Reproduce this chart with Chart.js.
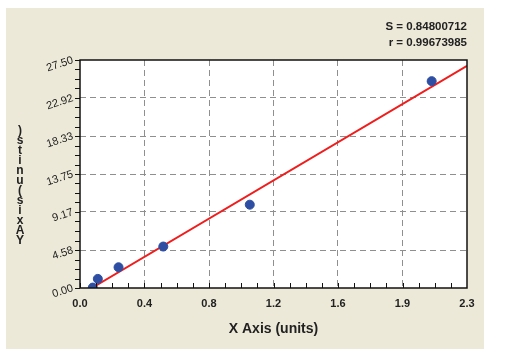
<!DOCTYPE html>
<html lang="en">
<head>
    <meta charset="UTF-8">
    <title>Standard Curve</title>
    <script src="https://cdn.jsdelivr.net/npm/chart.js"></script>
    <style>
        body { margin: 0; background: #fff; }
        #wrap { width: 505px; height: 349px; position: relative; }
    </style>
</head>
<body>
    <div id="wrap"><canvas id="curveChart"></canvas></div>

    <script>
        // values
        var xTickVals = [0, 0.3833, 0.7667, 1.15, 1.5333, 1.9167, 2.3];
        var xTickLabels = ["0.0", "0.4", "0.8", "1.2", "1.6", "1.9", "2.3"];
        var yTickVals = [0, 4.5833, 9.1667, 13.75, 18.3333, 22.9167, 27.5];
        var yTickLabels = ["0.00", "4.58", "9.17", "13.75", "18.33", "22.92", "27.50"];
        var pointX = [0.076, 0.106, 0.229, 0.495, 1.009, 2.09];
        var pointY = [0.05, 1.1, 2.5, 5.0, 10.05, 24.95];
        var fitX = [0.07, 2.3];
        var fitY = [0.0, 26.8];
        var statLines = ["S = 0.84800712", "r = 0.99673985"];
        var yTitle = "Y Axis (units)";

        var FONT = "'Liberation Sans', Arial, sans-serif";

        var decorPlugin = {
            id: "decor",
            beforeDraw: function(chart) {
                var ctx = chart.ctx, a = chart.chartArea;
                ctx.save();
                ctx.fillStyle = "#ece9d8";
                ctx.fillRect(6, 8, 478, 341);
                ctx.fillStyle = "#ffffff";
                ctx.fillRect(a.left, a.top, a.right - a.left, a.bottom - a.top);
                ctx.restore();
            },
            afterDraw: function(chart) {
                var ctx = chart.ctx, a = chart.chartArea;
                var xs = chart.scales.x, ys = chart.scales.y;
                ctx.save();
                ctx.strokeStyle = "#111";
                ctx.lineWidth = 1;
                // minor + major ticks, x inward, y outward
                ctx.beginPath();
                for (var i = 0; i < xTickVals.length - 1; i++) {
                    var step = (xTickVals[i + 1] - xTickVals[i]) / 4;
                    for (var k = 0; k < 4; k++) {
                        var px = Math.round(xs.getPixelForValue(xTickVals[i] + step * k)) + 0.5;
                        ctx.moveTo(px, a.bottom);
                        ctx.lineTo(px, a.bottom - 5);
                    }
                }
                for (var j = 0; j < yTickVals.length - 1; j++) {
                    var ystep = (yTickVals[j + 1] - yTickVals[j]) / 4;
                    for (var m = 0; m < 4; m++) {
                        var py = Math.round(ys.getPixelForValue(yTickVals[j] + ystep * m)) + 0.5;
                        ctx.moveTo(a.left, py);
                        ctx.lineTo(a.left - 5, py);
                    }
                }
                var topY = Math.round(ys.getPixelForValue(yTickVals[yTickVals.length - 1])) + 0.5;
                ctx.moveTo(a.left, topY);
                ctx.lineTo(a.left - 5, topY);
                ctx.stroke();
                // frame
                ctx.lineWidth = 1.5;
                ctx.strokeRect(a.left, a.top, a.right - a.left, a.bottom - a.top);

                // stats text
                ctx.fillStyle = "#222";
                ctx.font = "bold 11.5px " + FONT;
                ctx.textAlign = "right";
                ctx.textBaseline = "middle";
                ctx.fillText(statLines[0], 467, 27);
                ctx.fillText(statLines[1], 467, 43);

                // stacked y title, read bottom to top
                var chars = yTitle.replace(/ /g, "").split("");
                ctx.font = "bold 12px " + FONT;
                ctx.textAlign = "center";
                for (var c = 0; c < chars.length; c++) {
                    ctx.fillText(chars[c], 20, 241 - c * 10);
                }
                ctx.restore();
            }
        };

        new Chart(document.getElementById("curveChart"), {
            type: "scatter",
            data: {
                datasets: [{
                    label: "Fit",
                    data: fitX.map(function(v, i) { return { x: v, y: fitY[i] }; }),
                    showLine: true,
                    borderColor: "#f01d1d",
                    borderWidth: 2,
                    pointRadius: 0,
                    order: 2
                }, {
                    label: "Standards",
                    data: pointX.map(function(v, i) { return { x: v, y: pointY[i] }; }),
                    backgroundColor: "#2d4ea3",
                    borderColor: "#2d4ea3",
                    pointRadius: 4.5,
                    order: 1
                }]
            },
            options: {
                responsive: true,
                maintainAspectRatio: false,
                animation: false,
                layout: { padding: { left: 0, right: 38, top: 60, bottom: 0 } },
                plugins: {
                    legend: { display: false },
                    tooltip: { enabled: false }
                },
                scales: {
                    x: {
                        type: "linear",
                        min: 0,
                        max: 2.3,
                        afterBuildTicks: function(scale) {
                            scale.ticks = xTickVals.map(function(v) { return { value: v }; });
                        },
                        afterFit: function(scale) { scale.height = 61; },
                        ticks: {
                            autoSkip: false,
                            maxRotation: 0,
                            padding: 9,
                            color: "#222",
                            font: { family: FONT, size: 11, weight: "bold" },
                            callback: function(v, i) { return xTickLabels[i]; }
                        },
                        grid: {
                            drawTicks: false,
                            color: "#8f8f8f",
                            lineWidth: function(c) { return (c.index === 0 || c.index === xTickVals.length - 1) ? 0 : 1; }
                        },
                        border: { display: false, dash: [6, 4] },
                        title: {
                            display: true,
                            text: "X Axis (units)",
                            color: "#222",
                            font: { family: FONT, size: 14, weight: "bold" },
                            padding: { top: 4, bottom: 11 }
                        }
                    },
                    y: {
                        type: "linear",
                        min: 0,
                        max: 27.5,
                        afterBuildTicks: function(scale) {
                            scale.ticks = yTickVals.map(function(v) { return { value: v }; });
                        },
                        afterFit: function(scale) { scale.width = 80; },
                        ticks: {
                            autoSkip: false,
                            minRotation: 18,
                            maxRotation: 18,
                            padding: 7,
                            color: "#222",
                            font: { family: FONT, size: 11 },
                            callback: function(v, i) { return yTickLabels[i]; }
                        },
                        grid: {
                            drawTicks: false,
                            color: "#8f8f8f",
                            lineWidth: function(c) { return (c.index === 0 || c.index === yTickVals.length - 1) ? 0 : 1; }
                        },
                        border: { display: false, dash: [6, 4] }
                    }
                }
            },
            plugins: [decorPlugin]
        });
    </script>
</body>
</html>
